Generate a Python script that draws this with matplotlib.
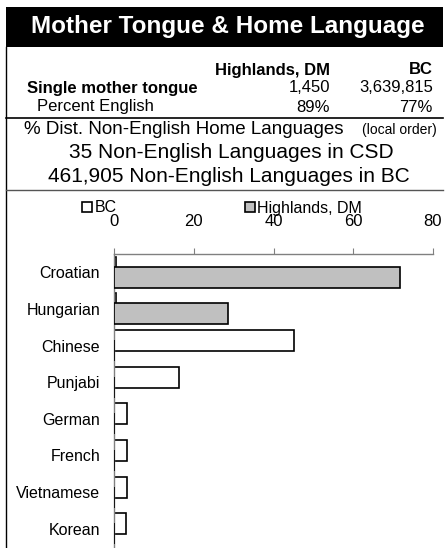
import matplotlib
matplotlib.use("Agg")
import matplotlib.pyplot as plt
from matplotlib.patches import Rectangle, Patch
from matplotlib.lines import Line2D
import numpy as np

plt.rcParams['font.family'] = ['Liberation Sans', 'DejaVu Sans']

languages = ["Croatian", "Hungarian", "Chinese", "Punjabi", "German", "French", "Vietnamese", "Korean"]
bc_vals = [0.6, 0.6, 45.1, 16.2, 3.3, 3.2, 3.2, 3.0]
highlands_vals = [71.7, 28.7, 0, 0, 0, 0, 0, 0]
series_names = ["BC", "Highlands, DM"]
xticks = [0, 20, 40, 60, 80]

title = "Mother Tongue & Home Language"
col_heads = ["Highlands, DM", "BC"]
row_single = ["Single mother tongue", "1,450", "3,639,815"]
row_pct = ["Percent English", "89%", "77%"]
sub1 = "% Dist. Non-English Home Languages"
sub1b = "(local order)"
sub2 = "35 Non-English Languages in CSD"
sub3 = "461,905 Non-English Languages in BC"

W, H = 445, 548
fig = plt.figure(figsize=(W / 100, H / 100), dpi=100)

def fx(x):
    return x / W

def fy(y):
    return 1 - y / H

# title bar
fig.patches.append(Rectangle((fx(5.5), fy(47)), fx(443) - fx(5.5), fy(7) - fy(47),
                             transform=fig.transFigure, facecolor='black', edgecolor='none'))
fig.text(fx(228), fy(27), title, color='white', fontsize=17.5, fontweight='bold',
         ha='center', va='center')

# borders
fig.lines.append(Line2D([fx(6), fx(6)], [fy(47), 0], transform=fig.transFigure, color='black', lw=1.0))
fig.lines.append(Line2D([fx(6), fx(443)], [fy(118), fy(118)], transform=fig.transFigure, color='black', lw=1.2))
fig.lines.append(Line2D([fx(6), fx(443)], [fy(190), fy(190)], transform=fig.transFigure, color='#555555', lw=1.0))

# table
ts = 12
fig.text(fx(330), fy(70), col_heads[0], fontsize=ts, fontweight='bold', ha='right', va='center')
fig.text(fx(433), fy(70), col_heads[1], fontsize=ts, fontweight='bold', ha='right', va='center')
fig.text(fx(27), fy(88), row_single[0], fontsize=ts, fontweight='bold', ha='left', va='center')
fig.text(fx(330), fy(88), row_single[1], fontsize=ts, ha='right', va='center')
fig.text(fx(433), fy(88), row_single[2], fontsize=ts, ha='right', va='center')
fig.text(fx(37), fy(107), row_pct[0], fontsize=ts, ha='left', va='center')
fig.text(fx(330), fy(107), row_pct[1], fontsize=ts, ha='right', va='center')
fig.text(fx(433), fy(107), row_pct[2], fontsize=ts, ha='right', va='center')

fig.text(fx(24), fy(129), sub1, fontsize=13.5, ha='left', va='center')
fig.text(fx(437), fy(130), sub1b, fontsize=10, ha='right', va='center')
fig.text(fx(231), fy(153), sub2, fontsize=15, ha='center', va='center')
fig.text(fx(229), fy(177), sub3, fontsize=15, ha='center', va='center')

# chart
ax = fig.add_axes([fx(114), fy(547), fx(433) - fx(114), fy(254) - fy(547)])
y = np.arange(len(languages))
off = 0.137
h = 0.575
ax.barh(y - off, bc_vals, height=h, color='white', edgecolor='black', linewidth=1.2, zorder=2)
ax.barh(y + off, highlands_vals, height=h, color='#C0C0C0', edgecolor='black', linewidth=1.2, zorder=3)
ax.set_xlim(0, 80)
ax.set_ylim(len(languages) - 0.5, -0.5)
ax.set_yticks(y)
ax.set_yticklabels(languages, fontsize=11.5)
ax.tick_params(axis='y', length=0, pad=10)
ax.xaxis.tick_top()
ax.set_xticks(xticks)
ax.tick_params(axis='x', direction='out', length=4, color='#808080', labelsize=12, pad=14)
for s in ['right', 'bottom']:
    ax.spines[s].set_visible(False)
for s in ['top', 'left']:
    ax.spines[s].set_color('#808080')
    ax.spines[s].set_linewidth(1.0)

handles = [Patch(facecolor='white', edgecolor='black', linewidth=1.2),
           Patch(facecolor='#C0C0C0', edgecolor='black', linewidth=1.2)]
fig.legend(handles, series_names, loc='center', bbox_to_anchor=(fx(222), fy(208)),
           ncol=2, frameon=False, fontsize=11.5, handlelength=0.65, handleheight=0.65,
           handletextpad=0.15, columnspacing=8.0, borderpad=0, borderaxespad=0)

fig.savefig("out.png", dpi=100)
